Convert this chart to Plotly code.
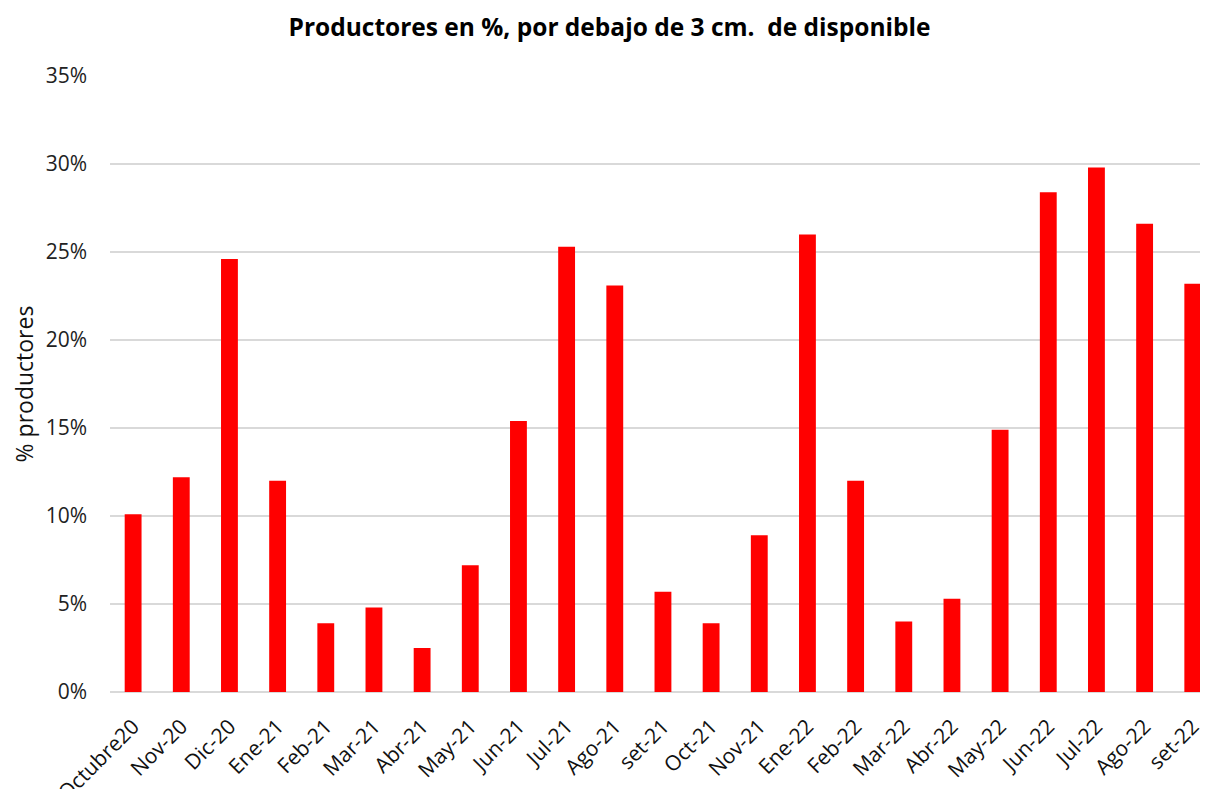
import plotly.graph_objects as go

categories = ["Octubre20", "Nov-20", "Dic-20", "Ene-21", "Feb-21", "Mar-21", "Abr-21",
              "May-21", "Jun-21", "Jul-21", "Ago-21", "set-21", "Oct-21", "Nov-21",
              "Ene-22", "Feb-22", "Mar-22", "Abr-22", "May-22", "Jun-22", "Jul-22",
              "Ago-22", "set-22"]
values = [0.101, 0.122, 0.246, 0.120, 0.039, 0.048, 0.025, 0.072, 0.154, 0.253, 0.231,
          0.057, 0.039, 0.089, 0.260, 0.120, 0.040, 0.053, 0.149, 0.284, 0.298, 0.266, 0.232]
y_ticks = [0, 0.05, 0.10, 0.15, 0.20, 0.25, 0.30, 0.35]
y_labels = ["0%", "5%", "10%", "15%", "20%", "25%", "30%", "35%"]

font_family = "'Open Sans', Lato, sans-serif"

fig = go.Figure(go.Bar(x=categories, y=values, marker_color="#ff0000",
                       marker_line_width=0, width=0.35, cliponaxis=False))

fig.update_layout(
    width=1200, height=781,
    plot_bgcolor="white", paper_bgcolor="white",
    margin=dict(l=102, r=8, t=68, b=97),
    title=dict(text="<b>Productores en %, por debajo de 3 cm.  de disponible</b>",
               x=(609.5 - 8) / 1200, xanchor="center", y=1 - (27 - 8) / 781, yanchor="middle",
               font=dict(family=font_family, size=24.5, color="black")),
    font=dict(family=font_family, color="#222"),
    showlegend=False,
)
fig.update_xaxes(range=[-0.48, 22.15], tickangle=-45, tickfont=dict(size=21, color="#111"),
                 showgrid=False, showline=False, ticks="", automargin=False,
                 ticklabelshift=0, ticklabelstandoff=17)
fig.update_yaxes(range=[0, 0.35], tickvals=y_ticks, ticktext=y_labels, automargin=False,
                 tickfont=dict(size=21, color="#222"), showgrid=True, gridcolor="#d9d9d9",
                 gridwidth=1.5, zeroline=True, zerolinecolor="#d9d9d9", zerolinewidth=1.5,
                 title=dict(text="% productores", font=dict(size=23, color="#111"), standoff=6),
                 ticklabelstandoff=22)
fig.write_html("out.html")
